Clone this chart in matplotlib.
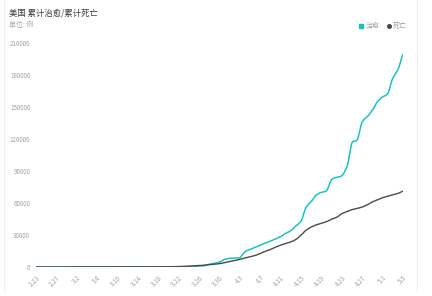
import matplotlib
matplotlib.use('Agg')
import matplotlib.pyplot as plt
from matplotlib.lines import Line2D
import numpy as np

plt.rcParams['font.family'] = ['Noto Sans CJK SC', 'DejaVu Sans']

# dates 2.23 .. 5.5 (daily)
dates = ['2.23', '2.24', '2.25', '2.26', '2.27', '2.28', '2.29',
         '3.1', '3.2', '3.3', '3.4', '3.5', '3.6', '3.7', '3.8', '3.9', '3.10',
         '3.11', '3.12', '3.13', '3.14', '3.15', '3.16', '3.17', '3.18', '3.19', '3.20',
         '3.21', '3.22', '3.23', '3.24', '3.25', '3.26', '3.27', '3.28', '3.29', '3.30',
         '3.31', '4.1', '4.2', '4.3', '4.4', '4.5', '4.6', '4.7', '4.8', '4.9', '4.10',
         '4.11', '4.12', '4.13', '4.14', '4.15', '4.16', '4.17', '4.18', '4.19', '4.20',
         '4.21', '4.22', '4.23', '4.24', '4.25', '4.26', '4.27', '4.28', '4.29', '4.30',
         '5.1', '5.2', '5.3', '5.4', '5.5']

cured = [5, 5, 5, 5, 6, 6, 7,
         7, 7, 7, 7, 8, 8, 8, 8, 8, 8,
         8, 12, 12, 12, 17, 17, 17, 106, 108, 147,
         176, 178, 348, 361, 681, 869, 1072, 2522, 3500, 4562,
         7024, 8100, 8400, 8700, 14300, 16500, 18500, 20500, 22500, 24300, 26300,
         28500, 31500, 34000, 38500, 43000, 56000, 61500, 67500, 70000, 71500,
         82000, 84000, 85500, 94000, 116500, 119000, 136000, 141000, 147000, 155000,
         159500, 162500, 177000, 185000, 199000]

deaths = [0, 0, 0, 0, 0, 0, 1,
          1, 6, 9, 11, 12, 15, 19, 22, 26, 30,
          38, 41, 48, 58, 69, 86, 109, 150, 206, 255,
          301, 414, 555, 780, 1027, 1295, 1695, 2220, 2565, 3112,
          4059, 5110, 6095, 7101, 8408, 9619, 10783, 12722, 14695, 16478, 18586,
          20463, 22020, 23529, 25832, 30000, 34500, 37500, 39500, 41000, 42500,
          44845, 46622, 49954, 51949, 53755, 54881, 56219, 58355, 60967, 62996,
          64943, 66369, 67682, 68922, 71064]

yticks = [0, 30000, 60000, 90000, 120000, 150000, 180000, 210000]

teal = '#17c3c6'
dark = '#4a4a4a'


def smooth(ys, n=8):
    # catmull-rom style curve through the daily points (drawing only)
    ys = np.asarray(ys, dtype=float)
    xs_out, ys_out = [], []
    for i in range(len(ys) - 1):
        p0 = ys[max(i - 1, 0)]
        p1 = ys[i]
        p2 = ys[i + 1]
        p3 = ys[min(i + 2, len(ys) - 1)]
        m1 = (p2 - p0) / 2 * 0.7
        m2 = (p3 - p1) / 2 * 0.7
        t = np.linspace(0, 1, n, endpoint=False)
        h00 = 2 * t**3 - 3 * t**2 + 1
        h10 = t**3 - 2 * t**2 + t
        h01 = -2 * t**3 + 3 * t**2
        h11 = t**3 - t**2
        xs_out.extend(i + t)
        ys_out.extend(h00 * p1 + h10 * m1 + h01 * p2 + h11 * m2)
    xs_out.append(len(ys) - 1)
    ys_out.append(ys[-1])
    return np.array(xs_out), np.array(ys_out)


fig = plt.figure(figsize=(4.32, 2.96), dpi=100)
ax = fig.add_axes([0.083, 0.098, 0.850, 0.757])

sx, sy = smooth(cured)
ax.plot(sx, sy, color=teal, lw=1.1, solid_joinstyle='round')
sx, sy = smooth(deaths)
ax.plot(sx, sy, color=dark, lw=1.0, solid_joinstyle='round')

x = np.arange(len(dates))
ax.set_xlim(0, len(dates) - 1)
ax.set_ylim(0, 210000)
ax.set_yticks(yticks)
ax.set_yticklabels([str(v) for v in yticks])
ax.set_xticks(x[::4])
ax.set_xticklabels(dates[::4], rotation=45, ha='right', va='top', rotation_mode='anchor')
ax.tick_params(axis='both', length=0, colors='#a0a0a0', labelsize=4.5)
ax.tick_params(axis='y', pad=4)
ax.tick_params(axis='x', pad=5)
for s in ax.spines.values():
    s.set_visible(False)

# title / subtitle
fig.text(9 / 432, 1 - 13 / 296, '美国 累计治愈/累计死亡', fontsize=6.0, color='#3a3a3a', va='center')
fig.text(9 / 432, 1 - 25 / 296, '单位: 例', fontsize=5, color='#aaaaaa', va='center')

# legend
fig.add_artist(Line2D([361 / 432], [1 - 26 / 296], marker='s', markersize=2.6, color=teal, lw=0))
fig.text(366 / 432, 1 - 26 / 296, '治愈', fontsize=5, color='#a0a0a0', va='center')
fig.add_artist(Line2D([389 / 432], [1 - 26 / 296], marker='o', markersize=2.6, color=dark, lw=0))
fig.text(393 / 432, 1 - 26 / 296, '死亡', fontsize=5, color='#a0a0a0', va='center')

# card borders
fig.add_artist(Line2D([3.5 / 432, 3.5 / 432], [0.02, 1], color='#ececec', lw=0.8))
fig.add_artist(Line2D([417 / 432, 417 / 432], [0.02, 1], color='#ececec', lw=0.8))

fig.savefig('out.png', dpi=100)
